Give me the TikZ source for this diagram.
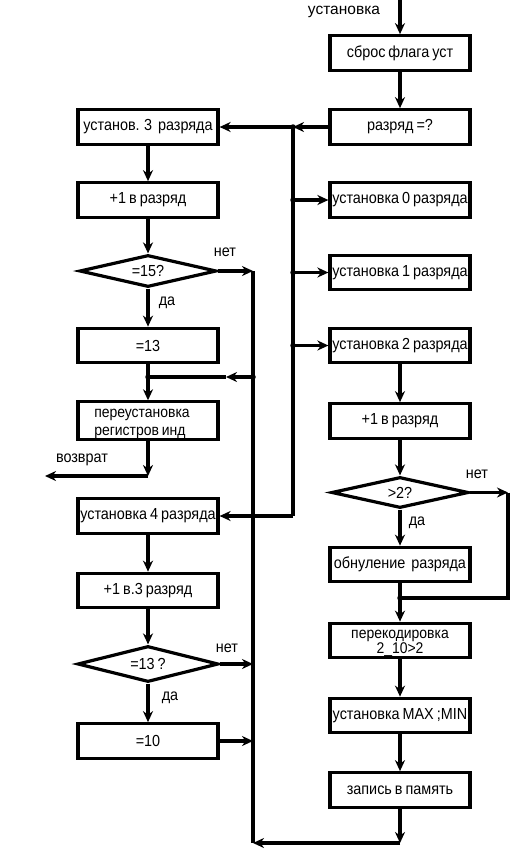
\documentclass[tikz,border=0pt]{standalone}
\usepackage{fontspec}
\usetikzlibrary{arrows.meta,shapes.geometric}
\newfontfamily\boxfam{Liberation Sans}[FakeStretch=0.9,WordSpace=0.75]
\newfontfamily\lblfam{Liberation Sans}
\newcommand\bxfont{\boxfam\fontsize{16pt}{18pt}\selectfont}
\newcommand\lbfont{\boxfam\fontsize{16pt}{18pt}\selectfont}
\newcommand\topfont{\lblfam\fontsize{15.5pt}{17pt}\selectfont}
\tikzset{
  blk/.style={draw, line width=3.2pt, fill=white, minimum width=140pt, minimum height=34.5pt, inner sep=0pt, font=\bxfont, align=center},
  dec/.style={draw, diamond, line width=3.2pt, fill=white, inner sep=0pt, aspect=4, font=\bxfont},
  con/.style={line width=3.2pt},
  arr/.style={line width=3.2pt, -{Stealth[length=11pt,width=10pt,inset=3.5pt]}},
  lbl/.style={font=\lbfont, anchor=base, inner sep=0pt},
  jdot/.style={circle, fill=black, inner sep=0pt, minimum size=5.5pt}
}
\begin{document}
\begin{tikzpicture}[x=1pt,y=-1pt]
\useasboundingbox[fill=white] (0,0) rectangle (517,849);
% right column
\node[blk] (sbros) at (400,53) {сброс флага уст};
\node[blk] (razr) at (400,127) {разряд =?};
\node[blk] (u0) at (400,200) {установка 0 разряда};
\node[blk] (u1) at (400,272.5) {установка 1 разряда};
\node[blk] (u2) at (400,345.5) {установка 2 разряда};
\node[blk] (p1r) at (400,421) {+1 в разряд};
\node[dec, minimum width=137pt, minimum height=31pt] (dia2) at (400,492.5) {>2?};
\node[blk] (obn) at (400,564.5) {обнуление\ \ разряда};
\node[blk, font=\boxfam\fontsize{15.5pt}{15pt}\selectfont] (perek) at (400,640.5) {\rule{0pt}{14pt}перекодировка\\2\_10>2};
\node[blk] (maxmin) at (400,715.5) {установка MAX ;MIN};
\node[blk] (zap) at (400,790) {запись в память};
% left column
\node[blk] (ust3) at (148,127) {установ. 3\ \ разряда};
\node[blk] (p1l) at (148,200) {+1 в разряд};
\node[dec, minimum width=137pt, minimum height=32pt] (dia15) at (148,271) {=15?};
\node[blk] (eq13) at (148,345.5) {=13};
\node[blk, align=left, font=\boxfam\fontsize{15.5pt}{18pt}\selectfont] (pereust) at (148,420.5) {\rule{0pt}{16pt}переустановка\hspace*{12pt}\\регистров инд};
\node[blk] (ust4) at (148,516) {установка 4 разряда};
\node[blk] (p13) at (148,590.5) {+1 в.3 разряд};
\node[dec, minimum width=141pt, minimum height=36pt] (dia13) at (148,664) {=13 ?};
\node[blk] (eq10) at (148,741) {=10};
% coordinates
\coordinate (top) at (400,0);
\coordinate (jb0) at (293,127);
\coordinate (jb1) at (293,200);
\coordinate (jb2) at (293,272.5);
\coordinate (jb3) at (293,345.5);
\coordinate (jb4) at (293,516);
\coordinate (jL15) at (253,271);
\coordinate (jL377) at (253,377);
\coordinate (m377) at (226,377);
\coordinate (j149) at (148,377);
\coordinate (jret) at (148,476);
\coordinate (ret) at (45,476);
\coordinate (jL13) at (253,664);
\coordinate (jL10) at (253,741);
\coordinate (jLbot) at (253,843);
\coordinate (jRbot) at (400,843);
\coordinate (jn2) at (508,492.5);
\coordinate (jn2b) at (508,598);
\coordinate (j598) at (400,598);
% labels
\node[lbl, font=\topfont] (lset) at (344,14) {установка};
\node[lbl] (ln15) at (225,256) {нет};
\node[lbl] (ld15) at (167,305) {да};
\node[lbl] (ln2) at (477,478) {нет};
\node[lbl] (ld2) at (417,525) {да};
\node[lbl] (lret) at (82,462) {возврат};
\node[lbl] (ln13) at (227,652) {нет};
\node[lbl] (ld13) at (170,700) {да};
% right column connectors
\draw[arr] (top) -- (sbros.north);
\draw[arr] (sbros.south) -- (razr.north);
\draw[arr] (razr.west) -- (jb0);
\draw[arr] (jb0) -- (ust3.east);
\draw[con] (jb0) -- (jb4);
\draw[arr] (jb4) -- (ust4.east);
\draw[arr] (jb1) -- (u0.west);
\draw[arr] (jb2) -- (u1.west);
\draw[arr] (jb3) -- (u2.west);
\draw[arr] (u2.south) -- (p1r.north);
\draw[arr] (p1r.south) -- (dia2.north);
\draw[arr] (dia2.south) -- (obn.north);
\draw[arr] (dia2.east) -- (jn2);
\draw[con] (jn2) -- (jn2b) -- (j598);
\draw[con] (obn.south) -- (j598);
\draw[arr] (j598) -- (perek.north);
\draw[arr] (perek.south) -- (maxmin.north);
\draw[arr] (maxmin.south) -- (zap.north);
\draw[arr] (zap.south) -- (jRbot);
\draw[arr] (jRbot) -- (jLbot);
% left column connectors
\draw[arr] (ust3.south) -- (p1l.north);
\draw[arr] (p1l.south) -- (dia15.north);
\draw[arr] (dia15.south) -- (eq13.north);
\draw[arr] (dia15.east) -- (jL15);
\draw[con] (jL15) -- (jLbot);
\draw[con] (eq13.south) -- (j149);
\draw[arr] (jL377) -- (m377);
\draw[con] (m377) -- (j149);
\draw[arr] (j149) -- (pereust.north);
\draw[arr] (pereust.south) -- (jret);
\draw[arr] (jret) -- (ret);
\draw[arr] (ust4.south) -- (p13.north);
\draw[arr] (p13.south) -- (dia13.north);
\draw[arr] (dia13.south) -- (eq10.north);
\draw[arr] (dia13.east) -- (jL13);
\draw[arr] (eq10.east) -- (jL10);
% junction dots
\foreach \p in {jb0,jb1,jb2,jb3,jL377,j149,j598}
  \node[jdot] at (\p) {};
\end{tikzpicture}
\end{document}
